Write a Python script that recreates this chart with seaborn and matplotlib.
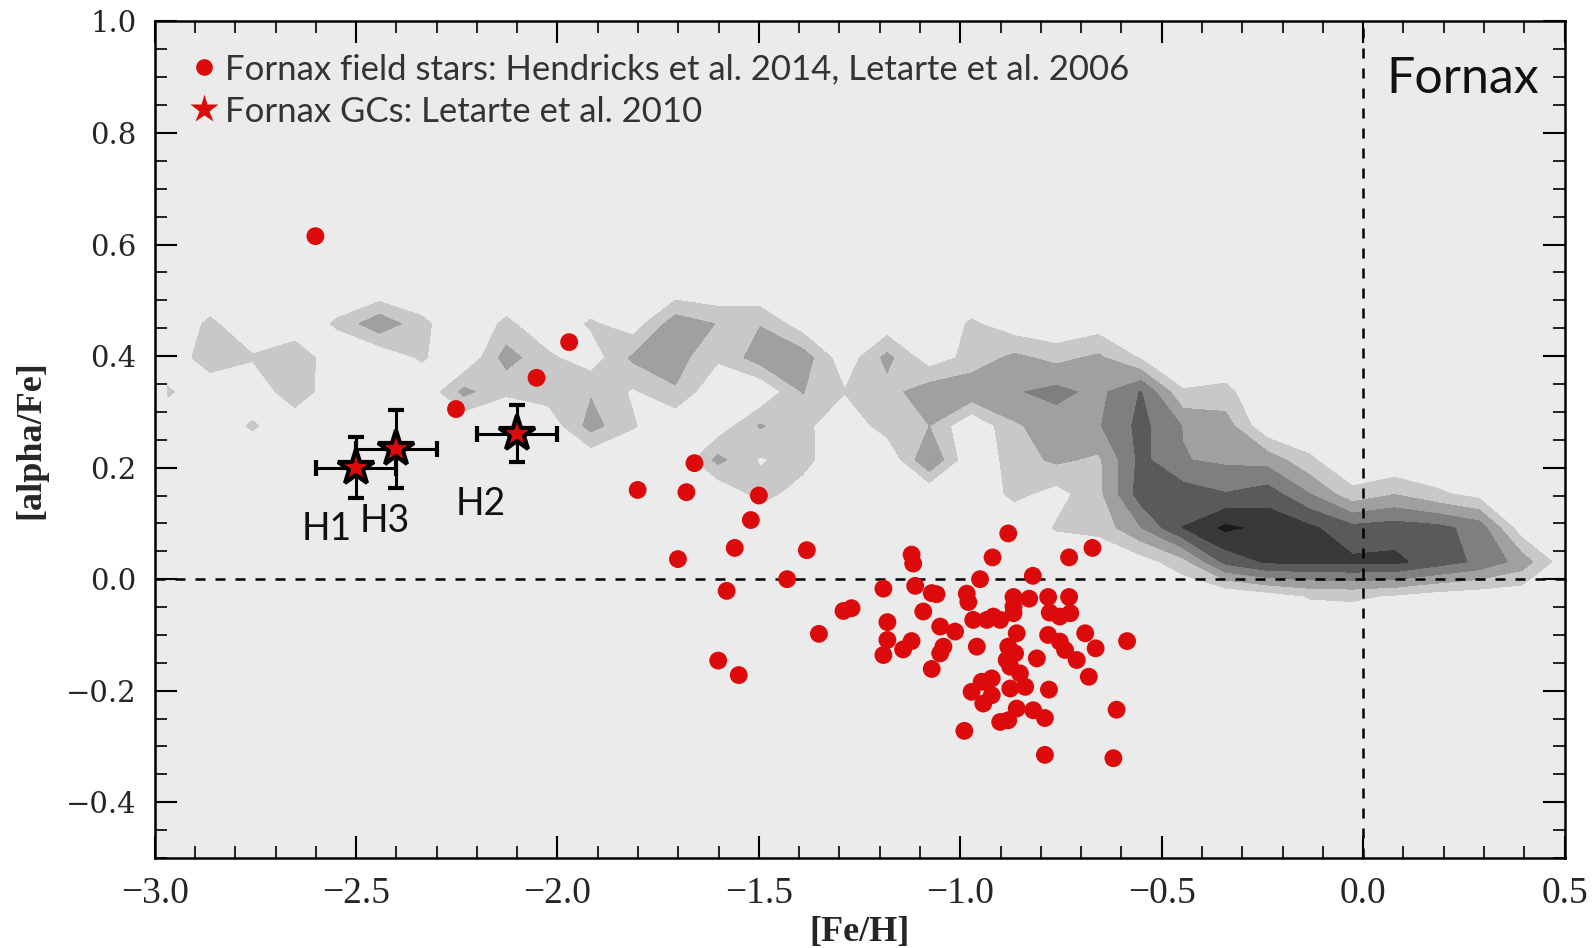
import numpy as np
import matplotlib
matplotlib.use("Agg")
import matplotlib.pyplot as plt
from matplotlib.lines import Line2D
from matplotlib.ticker import MultipleLocator
import seaborn as sns

# ---------------- data ----------------
# density grid (Milky Way comparison sample), grid node positions
grid_feh = [-2.967, -2.862, -2.757, -2.652, -2.547, -2.442, -2.337, -2.232, -2.127,
            -2.022, -1.917, -1.812, -1.707, -1.602, -1.497, -1.392, -1.287, -1.182,
            -1.077, -0.972, -0.867, -0.762, -0.657, -0.552, -0.447, -0.342, -0.237,
            -0.132, -0.027, 0.078, 0.183, 0.288, 0.393, 0.498]
grid_alpha = [-0.091, -0.030, 0.031, 0.092, 0.153, 0.214, 0.275, 0.336, 0.397, 0.458, 0.519]

# rows listed from top (alpha=0.519) to bottom (alpha=-0.091)
density_rows = [
    [0, 0, 0, 0, 0, 0.07, 0, 0, 0, 0, 0, 0, 0.3, 0.09, 0.05, 0, 0, 0, 0, 0, 0, 0, 0, 0, 0, 0, 0, 0, 0, 0, 0, 0, 0, 0],
    [0, 1.25, 0, 0, 1.2, 2.75, 1.3, 0, 1.25, 0.15, 1.15, 0.4, 2.6, 1.95, 1.95, 0.4, 0, 0.3, 0, 1.17, 0.35, 0, 0.44, 0, 0, 0, 0, 0, 0, 0, 0, 0, 0, 0],
    [0, 1.77, 1.12, 1.95, 0, 0.07, 1.15, 0, 2.45, 1.2, 0.4, 2.2, 2.4, 1.19, 2.5, 2.6, 0.3, 2.3, 0.4, 1.35, 2.25, 1.7, 2.2, 0.9, 0, 0.1, 0, 0, 0, 0, 0, 0, 0, 0],
    [1.18, 0, 0, 1.85, 0, 0, 0, 2.3, 1.16, 1.5, 1.9, 0.85, 1.9, 0, 0, 2.05, 1.05, 1.6, 2.6, 2.8, 2.9, 3.3, 2.7, 4.05, 1.1, 1.3, 0, 0, 0, 0, 0, 0, 0, 0],
    [0, 0, 1.18, 0, 0, 0, 0, 0, 0, 0.3, 2.4, 1.1, 0, 0.3, 2.1, 1.3, 0.2, 1.5, 2.0, 0, 1.85, 2.5, 2.9, 4.3, 2.95, 2.5, 0.1, 0, 0, 0, 0, 0, 0, 0],
    [0, 0, 0, 0, 0, 0, 0, 0, 0, 0, 0.2, 0, 0, 2.3, 0.9, 1.4, 0, 0, 3.02, 0, 1.5, 2.2, 1.8, 4.3, 3.05, 2.8, 2.6, 1.2, 0, 0, 0, 0, 0, 0],
    [0, 0, 0, 0, 0, 0, 0, 0, 0, 0, 0, 0, 0, 0, 1.4, 0.5, 0, 0, 0, 0, 1.3, 0.6, 1.7, 4.5, 4.5, 4.05, 4.5, 3.0, 1.3, 1.95, 1.2, 0.6, 0, 0],
    [0, 0, 0, 0, 0, 0, 0, 0, 0, 0, 0, 0, 0, 0, 0, 0, 0, 0, 0, 0, 0, 1.1, 1.3, 2.95, 5.02, 6.2, 5.7, 5.2, 4.3, 4.5, 4.3, 3.6, 0.4, 0],
    [0, 0, 0, 0, 0, 0, 0, 0, 0, 0, 0, 0, 0, 0, 0, 0, 0, 0, 0, 0, 0, 0, 0.1, 0.5, 1.6, 4.3, 5.15, 5.15, 5.2, 5.25, 4.5, 3.8, 2.6, 0.4],
    [0, 0, 0, 0, 0, 0, 0, 0, 0, 0, 0, 0, 0, 0, 0, 0, 0, 0, 0, 0, 0, 0, 0, 0, 0, 0, 0.5, 1.1, 1.2, 0.9, 0.5, 0.3, 0.25, 0],
    [0, 0, 0, 0, 0, 0, 0, 0, 0, 0, 0, 0, 0, 0, 0, 0, 0, 0, 0, 0, 0, 0, 0, 0, 0, 0, 0, 0, 0, 0, 0, 0, 0, 0],
]
contour_levels = [1, 2, 3, 4, 5, 6, 100]
contour_colors = ["#c8c8c8", "#a0a0a0", "#7f7f7f", "#5a5a5a", "#383838", "#1a1a1a"]

# Fornax field stars
field_feh = [-2.601, -1.971, -2.052, -2.252, -1.660, -1.801, -1.680, -1.500, -1.520,
             -1.701, -1.560, -1.381, -1.430, -1.580, -1.351, -1.290, -1.270, -1.601,
             -1.550, -1.191, -1.121, -1.117, -1.112, -1.181, -1.181, -1.191, -1.121,
             -1.142, -1.092, -1.071, -1.059, -0.881, -0.920, -0.951, -0.820, -0.730,
             -0.672, -0.984, -0.980, -1.050, -1.013, -1.042, -1.050, -1.071, -0.968,
             -0.934, -0.901, -0.918, -0.868, -0.868, -0.829, -0.860, -0.959, -0.881,
             -0.885, -0.810, -0.852, -0.947, -0.922, -0.972, -0.943, -0.922, -0.876,
             -0.839, -0.860, -0.819, -0.790, -0.901, -0.881, -0.990, -0.790, -0.782,
             -0.778, -0.753, -0.727, -0.730, -0.782, -0.753, -0.740, -0.711, -0.690,
             -0.664, -0.681, -0.780, -0.868, -0.864, -0.876, -0.586, -0.612, -0.620]
field_alpha = [0.615, 0.425, 0.361, 0.305, 0.208, 0.160, 0.156, 0.150, 0.106,
               0.036, 0.056, 0.052, 0.000, -0.021, -0.098, -0.057, -0.052, -0.146,
               -0.172, -0.017, 0.044, 0.028, -0.012, -0.077, -0.109, -0.136, -0.111,
               -0.126, -0.058, -0.025, -0.027, 0.082, 0.039, 0.000, 0.006, 0.039,
               0.056, -0.026, -0.041, -0.085, -0.094, -0.121, -0.133, -0.161, -0.073,
               -0.073, -0.073, -0.067, -0.032, -0.061, -0.035, -0.097, -0.121, -0.121,
               -0.145, -0.142, -0.169, -0.184, -0.178, -0.202, -0.223, -0.208, -0.196,
               -0.193, -0.232, -0.235, -0.249, -0.256, -0.253, -0.272, -0.315, -0.032,
               -0.060, -0.067, -0.061, -0.032, -0.100, -0.112, -0.127, -0.145, -0.097,
               -0.124, -0.175, -0.198, -0.049, -0.133, -0.157, -0.111, -0.234, -0.321]

# Fornax globular clusters
gc_names = ["H1", "H2", "H3"]
gc_feh = [-2.50, -2.10, -2.40]
gc_alpha = [0.200, 0.261, 0.233]
gc_feh_err = [0.10, 0.10, 0.10]
gc_alpha_err = [0.055, 0.051, 0.070]

legend_labels = ["Fornax field stars: Hendricks et al. 2014, Letarte et al. 2006",
                 "Fornax GCs: Letarte et al. 2010"]
panel_title = "Fornax"
x_label = "[Fe/H]"
y_label = "[alpha/Fe]"

# ---------------- drawing ----------------
sns.set_theme(style="ticks")
plt.rcParams['font.family'] = ['Lato', 'DejaVu Sans']
plt.rcParams['axes.unicode_minus'] = True

RED = "#dc0a0a"

fig = plt.figure(figsize=(15.96, 9.48), dpi=100)
ax = fig.add_axes([0.0969, 0.0949, 0.8834, 0.8825])
ax.set_facecolor("#ebebeb")

Z = np.array(density_rows[::-1])
ax.contourf(grid_feh, grid_alpha, Z, levels=contour_levels, colors=contour_colors, zorder=1)

ax.axhline(0, color="black", lw=1.8, ls=(0, (4, 4)), zorder=2)
ax.axvline(0, color="black", lw=1.8, ls=(0, (4, 4)), zorder=2)

sns.scatterplot(x=field_feh, y=field_alpha, color=RED, s=165, edgecolor="none",
                linewidth=0, ax=ax, zorder=3, legend=False)

ax.errorbar(gc_feh, gc_alpha, xerr=gc_feh_err, yerr=gc_alpha_err, fmt="*", ms=27,
            mfc=RED, mec="black", mew=3.0, ecolor="black", elinewidth=2.2,
            capsize=6, capthick=2.2, zorder=4)

label_pos = {"H1": (-2.634, 0.070), "H2": (-2.254, 0.115), "H3": (-2.490, 0.0845)}
for name in gc_names:
    lx, ly = label_pos[name]
    ax.text(lx, ly, name, fontsize=27, color="#111111", ha="left", va="baseline", zorder=5)

ax.text(0.057, 0.872, panel_title, fontsize=36, color="#111111", ha="left", va="baseline", zorder=5)

h1 = Line2D([], [], ls="none", marker="o", ms=12, mfc=RED, mec="none")
h2 = Line2D([], [], ls="none", marker="*", ms=21, mfc=RED, mec="none")
ax.legend([h1, h2], legend_labels, loc="upper left", bbox_to_anchor=(0.024, 0.962),
          frameon=False, fontsize=25, handletextpad=0.14, handlelength=0.9,
          borderaxespad=0, borderpad=0, labelspacing=0.3, labelcolor="#333333")

ax.set_xlim(-3.0, 0.5)
ax.set_ylim(-0.5, 1.0)
ax.xaxis.set_major_locator(MultipleLocator(0.5))
ax.xaxis.set_minor_locator(MultipleLocator(0.1))
ax.yaxis.set_major_locator(MultipleLocator(0.2))
ax.yaxis.set_minor_locator(MultipleLocator(0.05))
ax.tick_params(which="both", direction="in", top=True, right=True, color="black")
ax.tick_params(which="major", length=16, width=1.5)
ax.tick_params(which="minor", length=8.5, width=1.2)
ax.tick_params(axis="x", which="major", pad=13, labelsize=27)
ax.tick_params(axis="y", which="major", pad=13, labelsize=21)
for lab in ax.get_xticklabels():
    lab.set_fontfamily(["Liberation Serif", "DejaVu Serif"])
for lab in ax.get_yticklabels():
    lab.set_fontfamily(["DejaVu Serif"])
for sp in ax.spines.values():
    sp.set_linewidth(1.8)
    sp.set_color("black")

ax.set_xlabel(x_label, fontsize=26, fontweight="bold", family=["Liberation Serif", "DejaVu Serif"])
ax.set_ylabel(y_label, fontsize=26, fontweight="bold", family=["Liberation Serif", "DejaVu Serif"])
ax.xaxis.set_label_coords(0.5, -0.069)
ax.yaxis.set_label_coords(-0.0764, 0.5)

fig.savefig("out.png", dpi=100)
